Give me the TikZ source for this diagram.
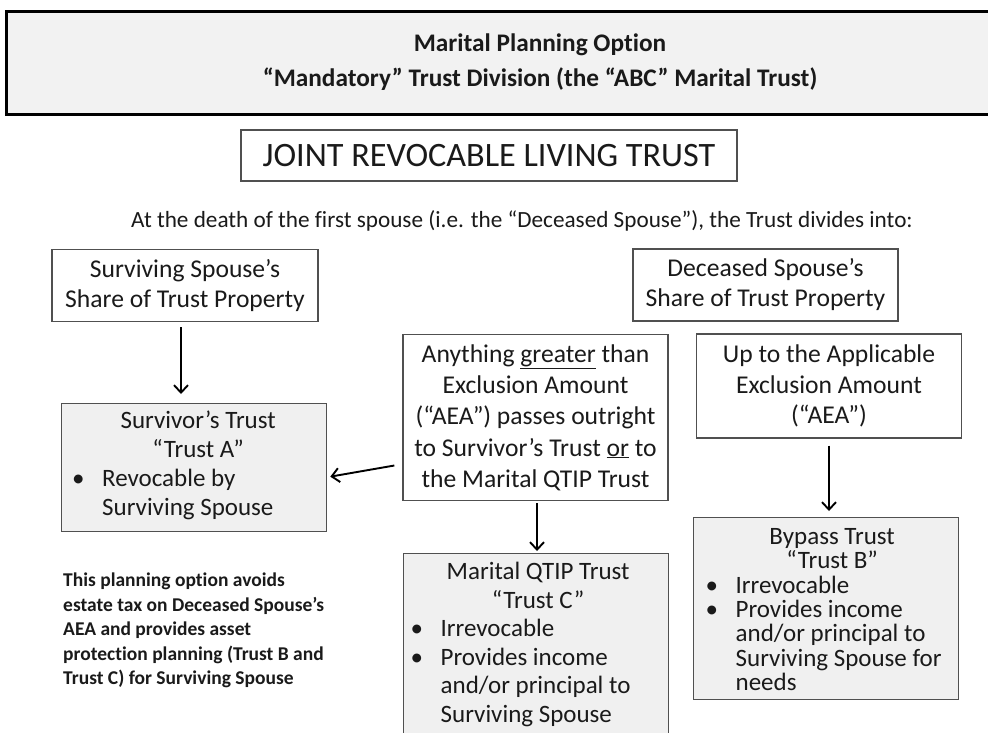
\documentclass[tikz,border=0pt]{standalone}
\usepackage{fontspec}
\setmainfont{Carlito}[Ligatures={NoCommon}]
\usetikzlibrary{arrows.meta}
\definecolor{boxline}{HTML}{505050}
\definecolor{boxfill}{HTML}{F0F0F0}
\definecolor{titlefill}{HTML}{F2F2F2}
\definecolor{ink}{HTML}{1A1A1A}
\tikzset{
  wbox/.style={draw=boxline, line width=1.3pt, fill=white, align=center, inner sep=0pt,
    font=\fontsize{25.6}{30}\selectfont, text=ink},
  gbox/.style={draw=boxline, line width=1.3pt, fill=boxfill, inner sep=0pt, anchor=north west},
  gtext/.style={anchor=north, inner sep=0pt, align=flush left, text width=#1, text=ink},
  arr/.style={line width=1.9pt, draw=black, -{Straight Barb[length=7.5pt,width=14pt,line width=1.9pt]}},
}
\newcommand{\bul}{\makebox[30pt][l]{\textbullet}}
\newcommand{\ind}{\hspace*{30pt}}
\newcommand{\ctr}[1]{\hfill #1\hfill\null}
\begin{document}
\begin{tikzpicture}[x=1pt,y=-1pt]
\useasboundingbox (0,0) rectangle (988,732);
\fill[white] (0,0) rectangle (988,732);
% title
\node[draw=black, line width=3pt, fill=titlefill, minimum width=1000pt, minimum height=103pt,
  inner sep=0pt, anchor=north west] (title) at (5,10) {};
\node[align=center, font=\bfseries\fontsize{25.3}{35}\selectfont, text=ink, inner sep=0pt] (titletxt) at (540,62)
  {Marital Planning Option\\“Mandatory” Trust Division (the “ABC” Marital Trust)};
% joint
\node[draw=boxline, line width=1.3pt, minimum width=496pt, minimum height=51pt, inner sep=0pt,
  font=\fontsize{34.2}{40}\selectfont, text=ink] (joint) at (489,155.5) {JOINT REVOCABLE LIVING TRUST};
\node[font=\fontsize{23.2}{28}\selectfont, text=ink, inner sep=0pt] (intro) at (522,221)
  {At the death of the first spouse (i.e. the “Deceased Spouse”), the Trust divides into:};
% shares
\node[wbox, minimum width=266pt, minimum height=72pt] (ss) at (185,285.5) {Surviving Spouse’s\\Share of Trust Property};
\node[wbox, minimum width=265pt, minimum height=72pt] (ds) at (765.5,285) {Deceased Spouse’s\\Share of Trust Property};
% middle
\node[wbox, minimum width=265pt, minimum height=166pt, font=\fontsize{25.6}{31.3}\selectfont] (any) at (535.5,417.5)
  {Anything \underline{greater} than\\Exclusion Amount\\(“AEA”) passes outright\\to Survivor’s Trust \underline{or} to\\the Marital QTIP Trust};
\node[wbox, minimum width=265pt, minimum height=104pt, font=\fontsize{25.6}{30.5}\selectfont] (up) at (829,386)
  {Up to the Applicable\\Exclusion Amount\\(“AEA”)};
% gray trusts
\node[gbox, minimum width=265pt, minimum height=128pt] (sa) at (61,403) {};
\node[gtext=252pt, font=\fontsize{25}{29}\selectfont] (satxt) at ([xshift=4pt,yshift=-8pt]sa.north)
  {\ctr{Survivor’s Trust}\\\ctr{“Trust A”}\\\bul Revocable by\\\ind Surviving Spouse};
\node[gbox, minimum width=265pt, minimum height=200pt] (mq) at (403,553) {};
\node[gtext=255pt, font=\fontsize{25}{28.5}\selectfont] (mqtxt) at ([xshift=2pt,yshift=-9pt]mq.north)
  {\ctr{Marital QTIP Trust}\\\ctr{“Trust C”}\\\bul Irrevocable\\\bul Provides income\\\ind and/or principal to\\\ind Surviving Spouse};
\node[gbox, minimum width=265pt, minimum height=182pt] (bp) at (693,517) {};
\node[gtext=253pt, font=\fontsize{25}{24.4}\selectfont] (bptxt) at ([xshift=6pt,yshift=-11pt]bp.north)
  {\ctr{Bypass Trust}\\\ctr{“Trust B”}\\\bul Irrevocable\\\bul Provides income\\\ind and/or principal to\\\ind Surviving Spouse for\\\ind needs};
% note
\node[anchor=north west, inner sep=0pt, align=flush left, font=\bfseries\fontsize{19.5}{24.5}\selectfont, text=ink] (note) at (63,573)
  {This planning option avoids\\estate tax on Deceased Spouse’s\\AEA and provides asset\\protection planning (Trust B and\\Trust C) for Surviving Spouse};
% arrows
\coordinate (xa) at (181,0);
\coordinate (xb) at (537,0);
\coordinate (xc) at (829,0);
\draw[arr] ([yshift=-5pt]ss.south -| xa) -- ([yshift=9pt]sa.north -| xa);
\draw[arr] ([yshift=-2pt]any.south -| xb) -- ([yshift=2pt]mq.north -| xb);
\draw[arr] ([yshift=-7pt]up.south -| xc) -- ([yshift=6pt]bp.north -| xc);
\draw[arr] ([xshift=-8pt,yshift=-48pt]any.west) -- ([xshift=3pt,yshift=-9pt]sa.east);
\end{tikzpicture}
\end{document}
